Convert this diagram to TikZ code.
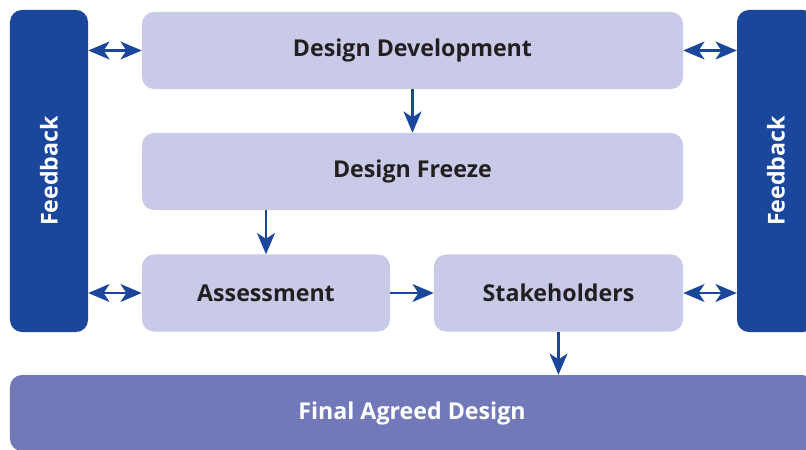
\documentclass[tikz,border=0pt]{standalone}
\usepackage{fontspec}
\setmainfont{Open Sans}
\usetikzlibrary{arrows.meta,positioning}
\definecolor{fbblue}{HTML}{1A479C}
\definecolor{stagefill}{HTML}{C8CAE8}
\definecolor{finalfill}{HTML}{7279B9}
\definecolor{labeltext}{HTML}{231F20}
\begin{document}
\begin{tikzpicture}[x=0.03cm, y=-0.03cm,
	stage/.style = {fill=stagefill, rounded corners=0.36cm, minimum height=2.31cm, text=labeltext, font=\fontsize{19.8}{23}\selectfont\bfseries},
	feedback/.style = {fill=fbblue, rounded corners=0.36cm, rotate=90, minimum width=9.66cm, minimum height=2.34cm, text=white, font=\fontsize{19.8}{23}\selectfont\bfseries},
	link/.style = {fbblue, line width=1.8pt, -{Stealth[length=6.4mm, width=5.4mm, inset=1.8mm]}},
	twoway/.style = {link, {Stealth[length=6.4mm, width=5.4mm, inset=1.8mm]}-{Stealth[length=6.4mm, width=5.4mm, inset=1.8mm]}}]
	\useasboundingbox (0,0) rectangle (806,450);
	\node[feedback] (fbl) at (49,171) {Feedback};
	\node[feedback] (fbr) at (776,171) {Feedback};
	\node[stage, minimum width=16.23cm] (dd) at (412.5,50.5) {Design Development};
	\node[stage, minimum width=16.23cm] (df) at (412.5,171.5) {Design Freeze};
	\node[stage, minimum width=7.44cm] (as) at (266,293) {Assessment};
	\node[stage, minimum width=7.47cm] (sh) at (558.5,293) {Stakeholders};
	\node[fill=finalfill, rounded corners=0.36cm, minimum width=24.12cm, minimum height=2.28cm, text=white, font=\fontsize{19.8}{23}\selectfont\bfseries] (fad) at (412,413) {Final Agreed Design};
	% feedback loops
	\draw[twoway] (dd.west -| fbl.south) -- (dd.west);
	\draw[twoway] (dd.east) -- (dd.east -| fbr.north);
	\draw[twoway] (as.west -| fbl.south) -- (as.west);
	\draw[twoway] (sh.east) -- (sh.east -| fbr.north);
	% main flow
	\draw[link] (dd.south) -- (df.north);
	\draw[link] (as.north |- df.south) -- (as.north);
	\draw[link] (as.east) -- (sh.west);
	\draw[link] (sh.south) -- (sh.south |- fad.north);
\end{tikzpicture}
\end{document}
